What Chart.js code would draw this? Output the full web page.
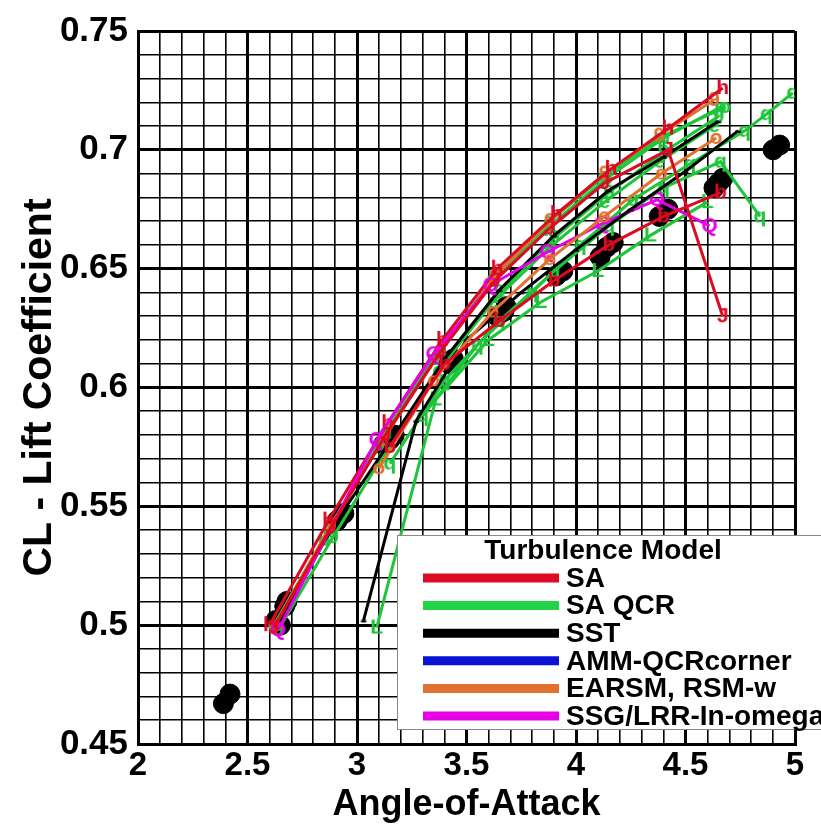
<!DOCTYPE html>
<html lang="en">
  <head>
    <meta charset="UTF-8" />
    <title>CL vs Angle-of-Attack</title>
    <script src="https://cdn.jsdelivr.net/npm/chart.js"></script>
    <style>
      body {
        margin: 0;
        background: #fff;
      }
      #wrap {
        width: 821px;
        height: 829px;
      }
    </style>
  </head>
  <body>
    <div id="wrap"><canvas id="clChart" width="821" height="829"></canvas></div>

    <script>
      // axis labels (major ticks)
      const xTickLabels = ["2", "2.5", "3", "3.5", "4", "4.5", "5"];
      const yTickLabels = ["0.45", "0.5", "0.55", "0.6", "0.65", "0.7", "0.75"];

      // legend
      const modelNames = ["SA", "SA QCR", "SST", "AMM-QCRcorner", "EARSM, RSM-w", "SSG/LRR-In-omega"];
      const modelColors = ["#dc0a23", "#22d447", "#000000", "#0a12d6", "#e2702e", "#e600e6"];

      // experiment (black dots)
      const expX = [2.39, 2.42, 2.63, 2.65, 2.67, 2.68, 2.91, 2.94, 3.12, 3.15, 3.17, 3.42, 3.44, 3.64, 3.67, 3.68, 3.91, 3.94, 4.11, 4.14, 4.17, 4.38, 4.42, 4.63, 4.65, 4.67, 4.90, 4.93];
      const expY = [0.467, 0.471, 0.502, 0.500, 0.508, 0.510, 0.544, 0.547, 0.576, 0.578, 0.580, 0.610, 0.612, 0.630, 0.632, 0.634, 0.647, 0.649, 0.655, 0.659, 0.661, 0.672, 0.675, 0.684, 0.686, 0.688, 0.700, 0.702];

      // SA
      const saA_x = [2.60, 2.87, 3.14, 3.39, 3.64, 3.91, 4.16, 4.42, 4.67];
      const saA_y = [0.500, 0.544, 0.585, 0.620, 0.650, 0.673, 0.692, 0.709, 0.726];
      const saB_x = [2.62, 2.88, 3.13, 3.38, 3.63, 3.88, 4.13, 4.42, 4.67];
      const saB_y = [0.499, 0.541, 0.580, 0.615, 0.645, 0.667, 0.686, 0.700, 0.630];
      const saC_x = [3.15, 3.40, 3.65, 3.90, 4.15, 4.40, 4.66];
      const saC_y = [0.575, 0.610, 0.628, 0.645, 0.660, 0.672, 0.682];

      // EARSM, RSM-w
      const erA_x = [2.62, 2.88, 3.12, 3.38, 3.63, 3.88, 4.13, 4.38, 4.63];
      const erA_y = [0.499, 0.542, 0.578, 0.615, 0.647, 0.670, 0.690, 0.706, 0.721];
      const erB_x = [3.10, 3.35, 3.62, 3.88, 4.13, 4.39, 4.64];
      const erB_y = [0.566, 0.603, 0.632, 0.654, 0.672, 0.690, 0.705];

      // SSG/LRR-ln-omega
      const ssg_x = [2.64, 3.09, 3.35, 3.61, 3.87, 4.12, 4.37, 4.61];
      const ssg_y = [0.498, 0.578, 0.614, 0.643, 0.657, 0.669, 0.679, 0.668];

      // SST
      const sstA_x = [2.63, 2.90, 3.15, 3.40, 3.65, 3.90, 4.15, 4.40, 4.65];
      const sstA_y = [0.500, 0.543, 0.577, 0.612, 0.641, 0.664, 0.683, 0.697, 0.712];
      const sstB_x = [3.03, 3.27, 3.50, 3.75, 4.00, 4.25, 4.50, 4.74];
      const sstB_y = [0.502, 0.586, 0.620, 0.640, 0.658, 0.675, 0.691, 0.708];

      // SA QCR
      const qcrA_x = [2.62, 2.87, 3.13, 3.38, 3.63, 3.88, 4.13, 4.38, 4.68];
      const qcrA_y = [0.500, 0.540, 0.581, 0.616, 0.647, 0.670, 0.689, 0.705, 0.718];
      const qcrB_x = [2.64, 2.89, 3.15, 3.40, 3.65, 3.90, 4.15, 4.40, 4.65];
      const qcrB_y = [0.498, 0.537, 0.576, 0.611, 0.640, 0.663, 0.682, 0.699, 0.714];
      const qcrC_x = [3.12, 3.37, 3.62, 3.88, 4.13, 4.38, 4.63];
      const qcrC_y = [0.571, 0.607, 0.636, 0.659, 0.678, 0.695, 0.710];
      const qcrD_x = [3.15, 3.40, 3.65, 3.90, 4.15, 4.40, 4.66, 4.84];
      const qcrD_y = [0.568, 0.603, 0.628, 0.649, 0.668, 0.684, 0.695, 0.672];
      const qcrE_x = [3.30, 3.55, 3.80, 4.02, 4.26, 4.52, 4.77, 4.87, 4.99];
      const qcrE_y = [0.588, 0.618, 0.640, 0.660, 0.679, 0.694, 0.708, 0.715, 0.724];
      const qcrF_x = [3.09, 3.36, 3.60, 3.84, 4.10, 4.34, 4.60];
      const qcrF_y = [0.499, 0.595, 0.620, 0.636, 0.649, 0.664, 0.678];
      const qcrG_x = [2.85, 3.10, 3.35, 3.62, 3.88, 4.14, 4.40, 4.66];
      const qcrG_y = [0.536, 0.576, 0.612, 0.645, 0.668, 0.688, 0.705, 0.718];

      const RED = modelColors[0], GREEN = "#1ec43a", BLACK = modelColors[2];
      const ORANGE = modelColors[4], MAGENTA = modelColors[5];

      // letter markers, like the tecplot symbols
      function letterMark(ch, color) {
        const c = document.createElement("canvas");
        c.width = 20;
        c.height = 24;
        const g = c.getContext("2d");
        g.fillStyle = color;
        g.font = 'bold 21px "Liberation Sans"';
        g.textAlign = "center";
        g.textBaseline = "middle";
        g.fillText(ch, 10, 12);
        return c;
      }

      function series(label, xs, ys, color, mark) {
        return {
          label: label,
          data: xs.map((x, i) => ({ x: x, y: ys[i] })),
          showLine: true,
          borderColor: color,
          borderWidth: 3,
          pointStyle: letterMark(mark, color),
          pointRadius: 10,
        };
      }

      const datasets = [
        series("SA", saB_x, saB_y, RED, "J"),
        series("SA", saC_x, saC_y, RED, "b"),
        series("EARSM", erB_x, erB_y, ORANGE, "o"),
        series("SST", sstB_x, sstB_y, BLACK, "-"),
        series("SSG", ssg_x, ssg_y, MAGENTA, "Q"),
        series("SA", saA_x, saA_y, RED, "h"),
        series("EARSM", erA_x, erA_y, ORANGE, "9"),
        series("SA QCR", qcrF_x, qcrF_y, GREEN, "L"),
        series("SA QCR", qcrE_x, qcrE_y, GREEN, "q"),
        series("SA QCR", qcrD_x, qcrD_y, GREEN, "q"),
        series("SST", sstA_x, sstA_y, BLACK, "-"),
        series("SA QCR", qcrC_x, qcrC_y, GREEN, "e"),
        series("SA QCR", qcrB_x, qcrB_y, GREEN, "9"),
        series("SA QCR", qcrG_x, qcrG_y, GREEN, "p"),
        series("SA QCR", qcrA_x, qcrA_y, GREEN, "o"),
        {
          label: "Experiment",
          data: expX.map((x, i) => ({ x: x, y: expY[i] })),
          showLine: false,
          pointStyle: "circle",
          pointRadius: 10,
          backgroundColor: "#000",
          borderColor: "#000",
        },
      ];

      function isMajor(v, per) {
        return Math.abs(v * per - Math.round(v * per)) < 1e-6;
      }

      const xTickFont = { family: "Liberation Sans", size: 33, weight: "bold" };
      const yTickFont = { family: "Liberation Sans", size: 35, weight: "bold" };

      // legend drawn inside the plot, lower right
      const modelLegend = {
        id: "modelLegend",
        afterDraw(chart) {
          const ctx = chart.ctx;
          ctx.save();
          ctx.fillStyle = "#fff";
          ctx.fillRect(397, 535, 440, 195);
          ctx.strokeStyle = "#888";
          ctx.lineWidth = 1;
          ctx.strokeRect(397.5, 535.5, 440, 194);
          ctx.fillStyle = "#000";
          ctx.textAlign = "center";
          ctx.textBaseline = "middle";
          ctx.font = 'bold 28px "Liberation Sans"';
          ctx.fillText("Turbulence Model", 603, 551);
          ctx.textAlign = "left";
          modelNames.forEach((name, i) => {
            const y = 578 + i * 27.6;
            ctx.strokeStyle = modelColors[i];
            ctx.lineWidth = 9;
            ctx.beginPath();
            ctx.moveTo(423, y);
            ctx.lineTo(559, y);
            ctx.stroke();
            ctx.fillStyle = "#000";
            ctx.fillText(name, 566, y + 1);
          });
          ctx.restore();
        },
      };

      new Chart(document.getElementById("clChart"), {
        type: "scatter",
        data: { datasets: datasets },
        plugins: [modelLegend],
        options: {
          responsive: false,
          animation: false,
          devicePixelRatio: 1,
          layout: { padding: { top: 24, right: 26, left: 0, bottom: 0 } },
          plugins: { legend: { display: false }, tooltip: { enabled: false } },
          scales: {
            x: {
              type: "linear",
              min: 2,
              max: 5,
              afterFit: (s) => {
                s.height = 85;
              },
              ticks: {
                stepSize: 0.1,
                maxTicksLimit: 1000,
                autoSkip: false,
                maxRotation: 0,
                padding: 2,
                color: "#000",
                font: xTickFont,
                callback: (v) => (isMajor(v, 2) ? xTickLabels[Math.round((v - 2) * 2)] : ""),
              },
              grid: {
                color: "#000",
                drawTicks: false,
                lineWidth: (c) => (isMajor(c.tick.value, 2) ? 3 : 1.6),
              },
              border: { color: "#000", width: 3 },
              title: {
                display: true,
                text: "Angle-of-Attack",
                color: "#000",
                font: { family: "Liberation Sans", size: 36, weight: "bold" },
                padding: { top: 0, bottom: 2 },
              },
            },
            y: {
              min: 0.45,
              max: 0.75,
              afterFit: (s) => {
                s.width = 138;
              },
              ticks: {
                stepSize: 0.01,
                maxTicksLimit: 1000,
                autoSkip: false,
                padding: 10,
                color: "#000",
                font: yTickFont,
                callback: (v) => (isMajor(v, 20) ? yTickLabels[Math.round((v - 0.45) * 20)] : ""),
              },
              grid: {
                color: "#000",
                drawTicks: false,
                lineWidth: (c) => (isMajor(c.tick.value, 20) ? 3 : 1.6),
              },
              border: { color: "#000", width: 3 },
              title: {
                display: true,
                text: "CL - Lift Coefficient",
                color: "#000",
                font: { family: "Liberation Sans", size: 41, weight: "bold" },
                padding: { top: 15, bottom: 0 },
              },
            },
          },
        },
      });
    </script>
  </body>
</html>
